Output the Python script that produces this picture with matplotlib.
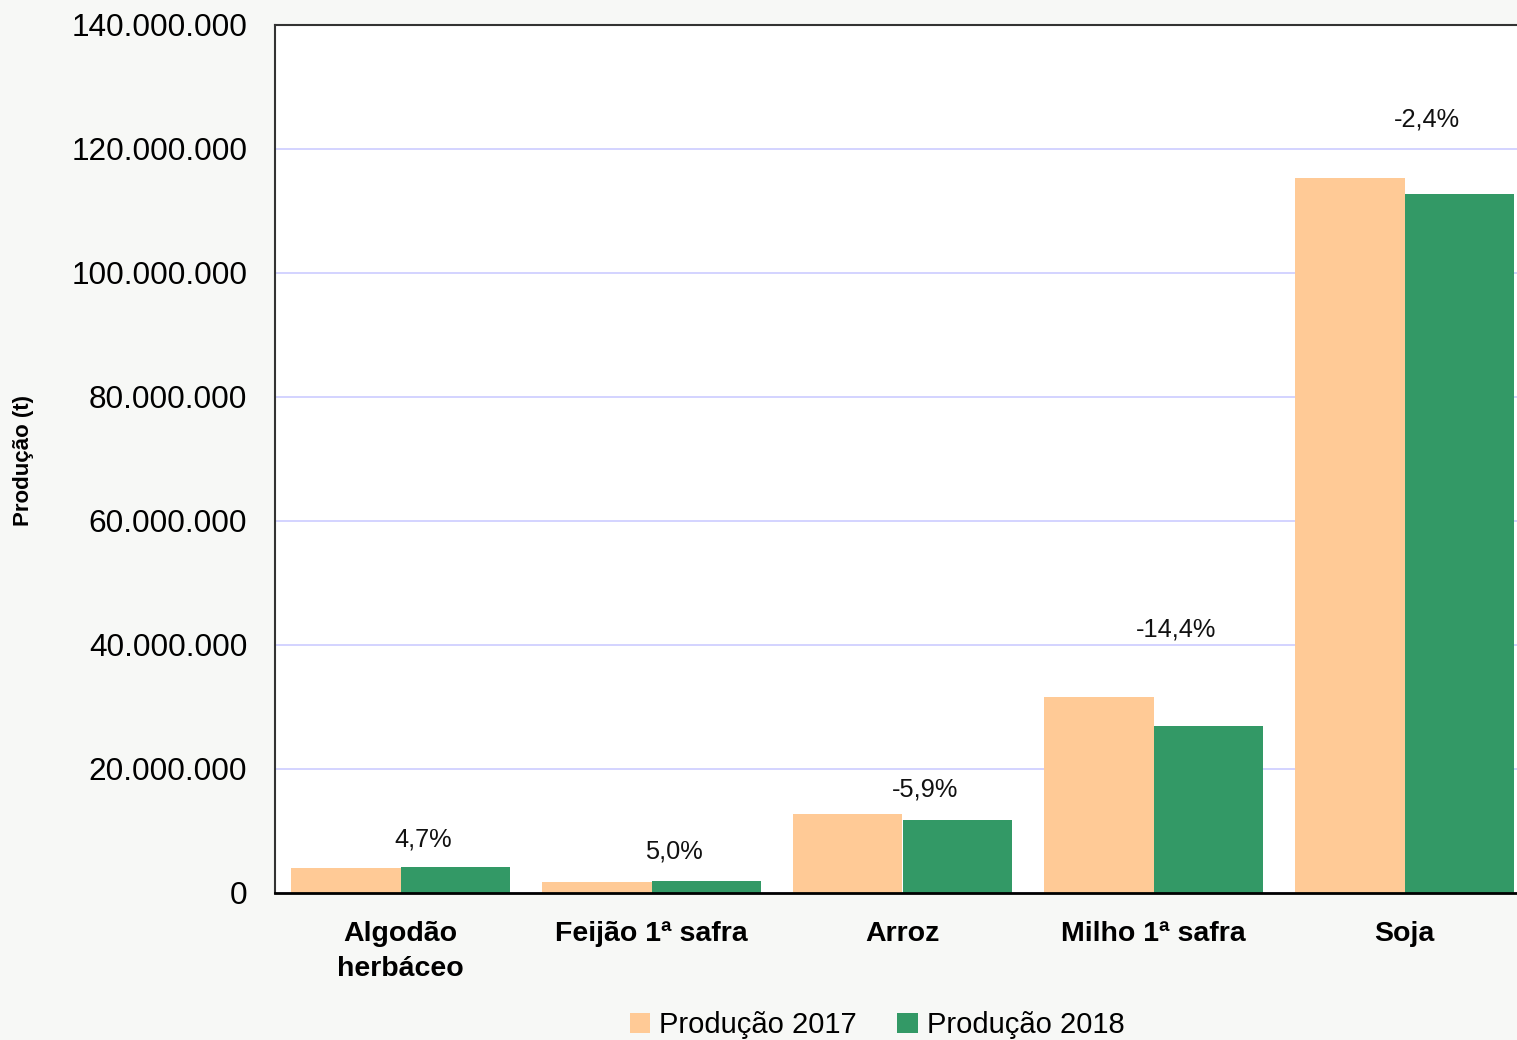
import matplotlib
matplotlib.use("Agg")
import matplotlib.pyplot as plt
import numpy as np

categories = ["Algodão\nherbáceo", "Feijão 1ª safra", "Arroz", "Milho 1ª safra", "Soja"]
prod_2017 = [4.04e6, 1.78e6, 12.78e6, 31.54e6, 115.3e6]
prod_2018 = [4.23e6, 1.87e6, 11.80e6, 27.01e6, 112.7e6]
variation = ["4,7%", "5,0%", "-5,9%", "-14,4%", "-2,4%"]
label_heights = [8.65e6, 6.7e6, 16.66e6, 42.46e6, 124.7e6]
yticks = [0, 20e6, 40e6, 60e6, 80e6, 100e6, 120e6, 140e6]
series_names = ["Produção 2017", "Produção 2018"]

plt.rcParams['font.family'] = ['Liberation Sans', 'DejaVu Sans']

W, H = 1517, 1040
fig = plt.figure(figsize=(W / 100, H / 100), dpi=100)
fig.patch.set_facecolor('#F7F8F6')

ax = fig.add_axes([275 / W, 1 - 893 / H, 1255 / W, 868 / H])
ax.set_facecolor('white')

x = np.arange(len(categories))
bw = 0.438
c17 = '#FFCA96'
c18 = '#339966'
b1 = ax.bar(x - bw / 2, prod_2017, width=bw, color=c17, zorder=3, label=series_names[0])
b2 = ax.bar(x + bw / 2, prod_2018, width=bw, color=c18, zorder=3, label=series_names[1])

for i, (t, yv) in enumerate(zip(variation, label_heights)):
    ax.text(i + 0.09, yv, t, ha='center', va='center', fontsize=18.3, color='#111111', zorder=4)

ax.set_xlim(-0.5, len(categories) - 0.5)
ax.set_ylim(0, 140e6)
ax.set_yticks(yticks)
ax.set_yticklabels([f"{int(v):,}".replace(",", ".") for v in yticks], fontsize=22.7)
ax.tick_params(axis='y', length=0, pad=20)
ax.set_xticks(x)
ax.set_xticklabels(categories, fontsize=20.5, fontweight='bold', linespacing=1.45)
ax.tick_params(axis='x', length=0, pad=20)

ax.grid(axis='y', color='#CCCCFF', linewidth=1.2, zorder=0)
ax.set_axisbelow(True)

for s in ['left', 'top', 'right']:
    ax.spines[s].set_color('#333333')
    ax.spines[s].set_linewidth(1.5)
ax.spines['bottom'].set_color('black')
ax.spines['bottom'].set_linewidth(2)
ax.spines['bottom'].set_zorder(5)

fig.text(24 / W, 1 - 460 / H, "Produção (t)", rotation=90, ha='center', va='center',
         fontsize=16, fontweight='bold')

fig.legend(handles=[b1, b2], labels=series_names, loc='center',
           bbox_to_anchor=(877 / W, 1 - 1025 / H), ncol=2, frameon=False,
           fontsize=21, handlelength=0.7, handleheight=0.7, handletextpad=0.3,
           columnspacing=1.4, borderpad=0)

fig.savefig("out.png", dpi=100, facecolor=fig.get_facecolor())
